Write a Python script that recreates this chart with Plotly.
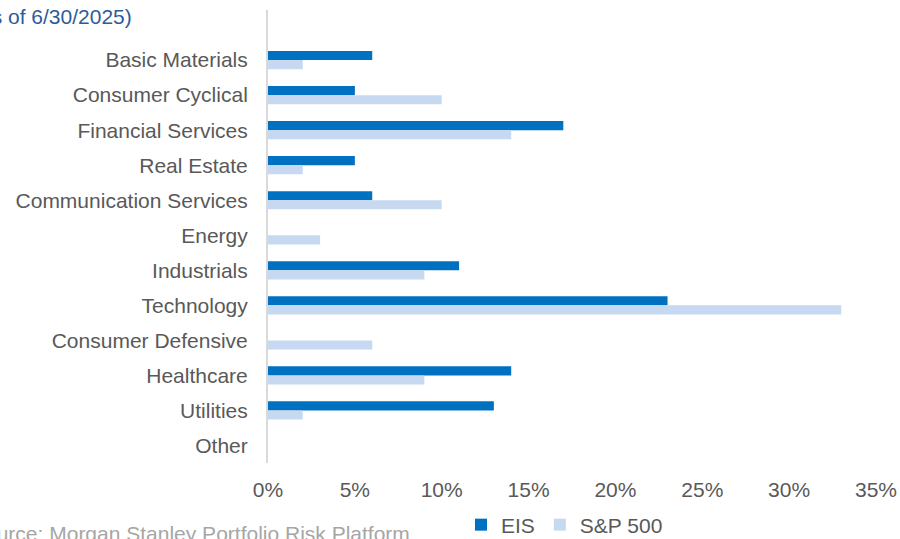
import plotly.graph_objects as go

categories = ["Basic Materials", "Consumer Cyclical", "Financial Services", "Real Estate",
              "Communication Services", "Energy", "Industrials", "Technology",
              "Consumer Defensive", "Healthcare", "Utilities", "Other"]
eis = [6, 5, 17, 5, 6, 0, 11, 23, 0, 14, 13, 0]
sp500 = [2, 10, 14, 2, 10, 3, 9, 33, 6, 9, 2, 0]
x_ticks = [0, 5, 10, 15, 20, 25, 30, 35]
x_tick_labels = ["0%", "5%", "10%", "15%", "20%", "25%", "30%", "35%"]

FONT = "Liberation Sans, Arial, sans-serif"
GRAY = "#595959"
FS = 21

fig = go.Figure()
fig.add_trace(go.Bar(y=categories, x=eis, name="EIS", orientation="h",
                     marker=dict(color="#0070C0", line=dict(width=0))))
fig.add_trace(go.Bar(y=categories, x=sp500, name="S&P 500", orientation="h",
                     marker=dict(color="#C6D9F1", line=dict(width=0))))

fig.update_layout(
    width=900, height=539,
    margin=dict(l=268, r=24, t=10, b=76, autoexpand=False),
    paper_bgcolor="white", plot_bgcolor="white",
    barmode="group", bargap=0.48, bargroupgap=0,
    font=dict(family=FONT, size=FS, color=GRAY),
    showlegend=True,
    legend=dict(orientation="h", x=461 / 900, xref="container", xanchor="left",
                y=(539 - 525) / 539, yref="container", yanchor="middle",
                font=dict(size=FS, color=GRAY), itemwidth=30,
                bgcolor="rgba(0,0,0,0)"),
    xaxis=dict(range=[0, 35], tickvals=x_ticks, ticktext=x_tick_labels,
               showgrid=False, zeroline=False, showline=False,
               ticks="", ticklabelstandoff=12,
               tickfont=dict(size=FS, color=GRAY), fixedrange=True),
    yaxis=dict(type="category", categoryorder="array", categoryarray=categories,
               range=[11.5, -1.43], showgrid=False, zeroline=False,
               showline=True, linecolor="#D9D9D9", linewidth=2,
               ticks="", ticklabelstandoff=14,
               tickfont=dict(size=FS, color=GRAY), fixedrange=True),
    annotations=[
        dict(text="(as of 6/30/2025)", xref="paper", yref="paper",
             x=(134 - 268) / 608, y=1 + (10 - 17) / 453, xanchor="right", yanchor="middle",
             showarrow=False, font=dict(size=FS, color="#2E5C9A", family=FONT)),
        dict(text="Source: Morgan Stanley Portfolio Risk Platform", xref="paper", yref="paper",
             x=(412 - 268) / 608, y=-(533 - 463) / 453, xanchor="right", yanchor="middle",
             showarrow=False, font=dict(size=FS, color="#A6A6A6", family=FONT)),
    ],
)

fig.write_html("out.html")
